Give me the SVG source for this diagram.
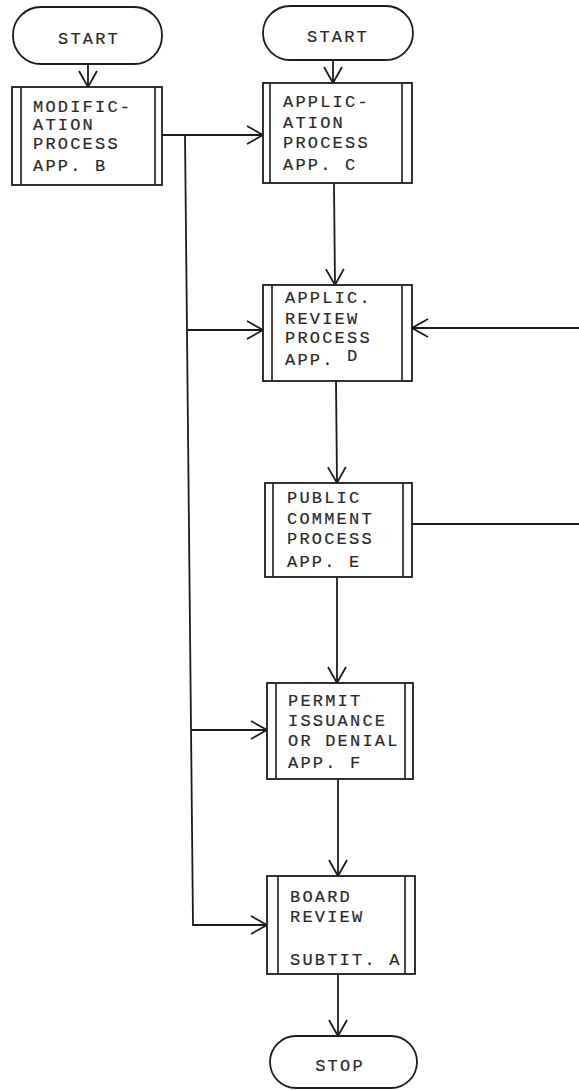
<svg xmlns="http://www.w3.org/2000/svg" width="579" height="1090" viewBox="0 0 579 1090">
<defs>
<marker id="arr" viewBox="0 0 20 20" refX="18" refY="10" markerWidth="20" markerHeight="20" markerUnits="userSpaceOnUse" orient="auto">
<path d="M2,1 L18,10 L2,19" fill="none" stroke="#1c1c1c" stroke-width="1.8"/>
</marker>
</defs>
<style>
.term{fill:#fff;stroke:#1c1c1c;stroke-width:1.8}
.box{fill:#fff;stroke:#1c1c1c;stroke-width:1.8}
.bar{stroke:#1c1c1c;stroke-width:1.6;fill:none}
.t{font-family:"Liberation Mono","Courier New",monospace;font-size:17px;letter-spacing:2.2px;fill:#2a2a2a;stroke:#2a2a2a;stroke-width:0.2}
.c{text-anchor:middle}
.ln{fill:none;stroke:#1c1c1c;stroke-width:1.8}
</style>
<rect width="579" height="1090" fill="#fff"/>
<g id="connectors">
<line class="ln" x1="88" y1="64" x2="88" y2="87" marker-end="url(#arr)"/>
<line class="ln" x1="333" y1="60" x2="333" y2="83" marker-end="url(#arr)"/>
<line class="ln" x1="334" y1="183" x2="335" y2="285" marker-end="url(#arr)"/>
<line class="ln" x1="336" y1="381" x2="337" y2="483" marker-end="url(#arr)"/>
<line class="ln" x1="337" y1="577" x2="337" y2="683" marker-end="url(#arr)"/>
<line class="ln" x1="338" y1="779" x2="338" y2="876" marker-end="url(#arr)"/>
<line class="ln" x1="338" y1="974" x2="338" y2="1036" marker-end="url(#arr)"/>
<line class="ln" x1="162" y1="135" x2="263" y2="135" marker-end="url(#arr)"/>
<polyline class="ln" points="185,135 193,925 267,925" marker-end="url(#arr)"/>
<line class="ln" x1="187" y1="330" x2="263" y2="330" marker-end="url(#arr)"/>
<line class="ln" x1="191" y1="730" x2="267" y2="730" marker-end="url(#arr)"/>
<line class="ln" x1="579" y1="328" x2="412" y2="328" marker-end="url(#arr)"/>
<line class="ln" x1="412" y1="524" x2="579" y2="524"/>
</g>
<g id="start1">
<rect class="term" x="13" y="7" width="149" height="57" rx="28" ry="28"/>
<text class="t c" x="89" y="44">START</text>
</g>
<g id="start2">
<rect class="term" x="263" y="6" width="150" height="54" rx="27" ry="27"/>
<text class="t c" x="338" y="42">START</text>
</g>
<g id="boxB">
<rect class="box" x="12" y="87" width="150" height="98"/>
<line class="bar" x1="21" y1="87" x2="21" y2="185"/>
<line class="bar" x1="155" y1="87" x2="155" y2="185"/>
<text class="t" x="33" y="112">MODIFIC-</text>
<text class="t" x="33" y="130">ATION</text>
<text class="t" x="33" y="149">PROCESS</text>
<text class="t" x="33" y="171">APP. B</text>
</g>
<g id="boxC">
<rect class="box" x="263" y="83" width="149" height="100"/>
<line class="bar" x1="270" y1="83" x2="270" y2="183"/>
<line class="bar" x1="402" y1="83" x2="402" y2="183"/>
<text class="t" x="283" y="107">APPLIC-</text>
<text class="t" x="283" y="128">ATION</text>
<text class="t" x="283" y="148">PROCESS</text>
<text class="t" x="283" y="170">APP. C</text>
</g>
<g id="boxD">
<rect class="box" x="263" y="285" width="149" height="96"/>
<line class="bar" x1="272" y1="285" x2="272" y2="381"/>
<line class="bar" x1="402" y1="285" x2="402" y2="381"/>
<text class="t" x="285" y="303">APPLIC.</text>
<text class="t" x="285" y="324">REVIEW</text>
<text class="t" x="285" y="343">PROCESS</text>
<text class="t" x="285" y="365">APP. <tspan dy="-4">D</tspan></text>
</g>
<g id="boxE">
<rect class="box" x="265" y="483" width="147" height="94"/>
<line class="bar" x1="273" y1="483" x2="273" y2="577"/>
<line class="bar" x1="403" y1="483" x2="403" y2="577"/>
<text class="t" x="287" y="503">PUBLIC</text>
<text class="t" x="287" y="524">COMMENT</text>
<text class="t" x="287" y="544">PROCESS</text>
<text class="t" x="287" y="567">APP. E</text>
</g>
<g id="boxF">
<rect class="box" x="267" y="683" width="146" height="96"/>
<line class="bar" x1="276" y1="683" x2="276" y2="779"/>
<line class="bar" x1="405" y1="683" x2="405" y2="779"/>
<text class="t" x="288" y="706">PERMIT</text>
<text class="t" x="288" y="726">ISSUANCE</text>
<text class="t" x="288" y="746">OR DENIAL</text>
<text class="t" x="288" y="768">APP. F</text>
</g>
<g id="boxBoard">
<rect class="box" x="267" y="876" width="148" height="98"/>
<line class="bar" x1="278" y1="876" x2="278" y2="974"/>
<line class="bar" x1="405" y1="876" x2="405" y2="974"/>
<text class="t" x="290" y="902">BOARD</text>
<text class="t" x="290" y="922">REVIEW</text>
<text class="t" x="290" y="965">SUBTIT. A</text>
</g>
<g id="stop">
<rect class="term" x="270" y="1036" width="147" height="52" rx="26" ry="26"/>
<text class="t c" x="340" y="1071">STOP</text>
</g>
</svg>
